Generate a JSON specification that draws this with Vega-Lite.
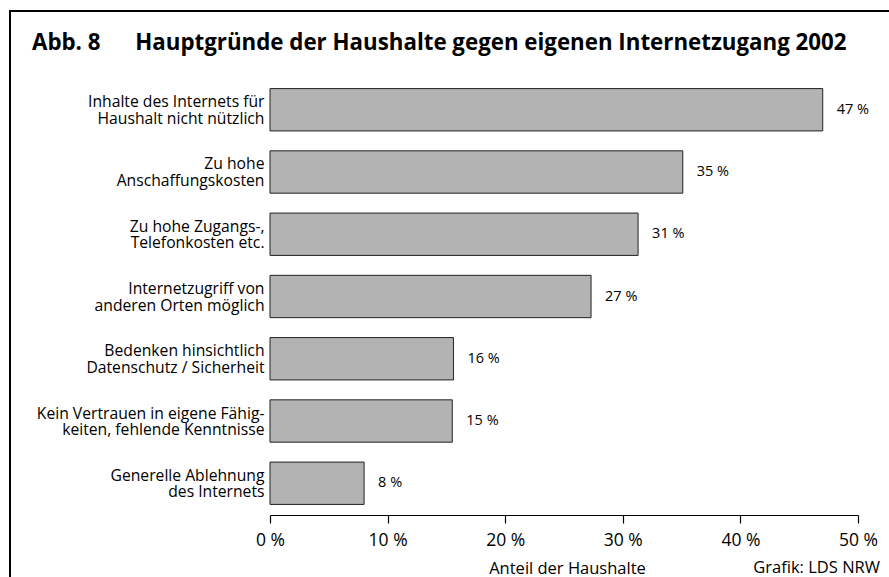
{
  "$schema": "https://vega.github.io/schema/vega-lite/v6.json",
  "width": 899,
  "height": 586,
  "autosize": {"type": "none"},
  "padding": {"left": 10, "top": 11, "right": -20, "bottom": -20},
  "background": "white",
  "config": {
    "font": "Open Sans",
    "view": {"stroke": "black", "strokeWidth": 2}
  },
  "title": {
    "text": "Abb. 8\u00a0\u00a0\u00a0\u00a0\u00a0\u00a0Hauptgründe der Haushalte gegen eigenen Internetzugang 2002",
    "anchor": "start",
    "frame": "group",
    "offset": 0,
    "dx": 22,
    "dy": 61,
    "baseline": "alphabetic",
    "fontSize": 22.3,
    "fontWeight": "bold",
    "color": "black",
    "font": "Open Sans"
  },
  "data": {
    "values": [
      {"grund": "Inhalte des Internets für|Haushalt nicht nützlich", "anteil": 47.0, "text": "47 %"},
      {"grund": "Zu hohe|Anschaffungskosten", "anteil": 35.1, "text": "35 %"},
      {"grund": "Zu hohe Zugangs-,|Telefonkosten etc.", "anteil": 31.3, "text": "31 %"},
      {"grund": "Internetzugriff von|anderen Orten möglich", "anteil": 27.3, "text": "27 %"},
      {"grund": "Bedenken hinsichtlich|Datenschutz / Sicherheit", "anteil": 15.6, "text": "16 %"},
      {"grund": "Kein Vertrauen in eigene Fähig-|keiten, fehlende Kenntnisse", "anteil": 15.5, "text": "15 %"},
      {"grund": "Generelle Ablehnung|des Internets", "anteil": 8.0, "text": "8 %"}
    ]
  },
  "encoding": {
    "y": {
      "field": "grund",
      "type": "nominal",
      "sort": null,
      "scale": {"range": [67, 504], "paddingInner": 0.32, "paddingOuter": 0.17},
      "axis": {
        "orient": "left",
        "offset": -260,
        "domain": false,
        "ticks": false,
        "labelPadding": 6,
        "labelOffset": -7.5,
        "labelExpr": "split(datum.value, '|')",
        "labelFontSize": 15.7,
        "labelLineHeight": 16.5,
        "labelColor": "black",
        "labelLimit": 0,
        "title": null
      }
    }
  },
  "layer": [
    {
      "mark": {"type": "bar", "fill": "#b3b3b3", "stroke": "#222222", "strokeWidth": 1},
      "encoding": {
        "x": {
          "field": "anteil",
          "type": "quantitative",
          "scale": {"domain": [0, 50], "range": [260, 848], "nice": false},
          "axis": {
            "orient": "bottom",
            "offset": -82,
            "values": [0, 10, 20, 30, 40, 50],
            "labelExpr": "datum.value + ' %'",
            "grid": false,
            "tickSize": 8,
            "tickColor": "black",
            "tickWidth": 1.2,
            "domainColor": "black",
            "domainWidth": 1.2,
            "labelFontSize": 17.5,
            "labelColor": "black",
            "labelPadding": 8,
            "labelFlush": false,
            "labelOverlap": false,
            "title": "Anteil der Haushalte",
            "titleX": 557,
            "titleY": 58,
            "titleAlign": "center",
            "titleBaseline": "alphabetic",
            "titleFontWeight": "normal",
            "titleFontSize": 16.5,
            "titleColor": "black"
          }
        }
      }
    },
    {
      "mark": {"type": "text", "align": "left", "baseline": "middle", "dx": 14, "fontSize": 14.5, "color": "black"},
      "encoding": {
        "x": {"field": "anteil", "type": "quantitative"},
        "text": {"field": "text"}
      }
    },
    {
      "data": {"values": [{"quelle": "Grafik: LDS NRW"}]},
      "mark": {"type": "text", "align": "right", "baseline": "alphabetic", "dx": 22, "dy": 90, "fontSize": 16.5, "color": "black"},
      "encoding": {
        "x": {"datum": 50},
        "y": {"datum": "Generelle Ablehnung|des Internets"},
        "text": {"field": "quelle"}
      }
    }
  ]
}
